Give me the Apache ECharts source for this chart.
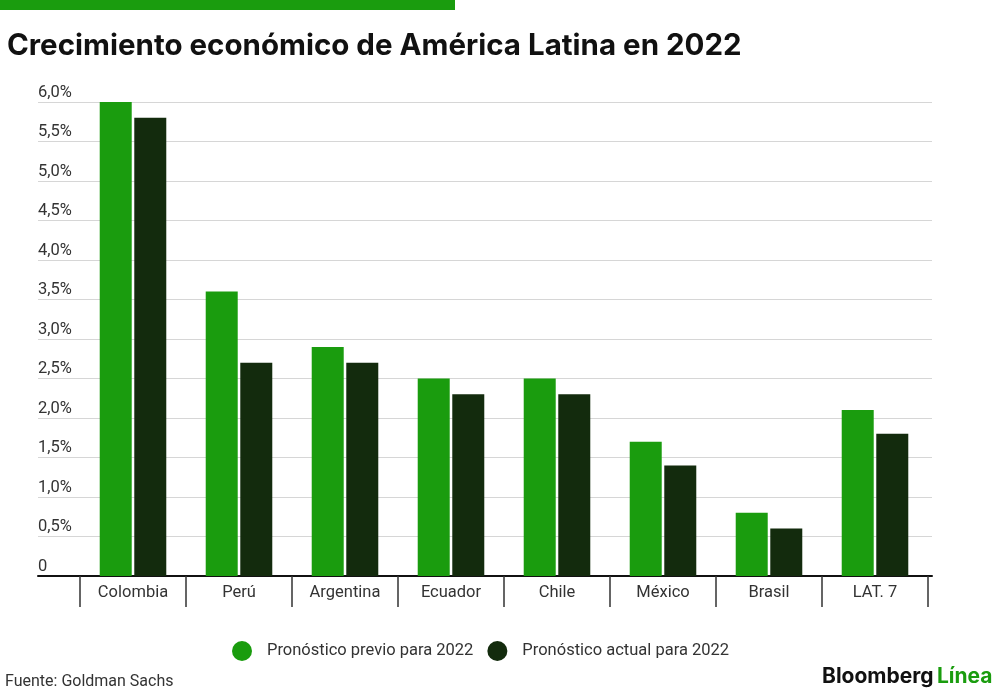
<!DOCTYPE html>
<html>
<head>
<meta charset="utf-8">
<script src="https://cdn.jsdelivr.net/npm/echarts@6/dist/echarts.min.js"></script>
<style>
  html, body { margin: 0; padding: 0; background: #fff; }
  #chart { width: 1000px; height: 696px; }
</style>
</head>
<body>
<div id="chart"></div>
<script>
var paises = ['Colombia', 'Perú', 'Argentina', 'Ecuador', 'Chile', 'México', 'Brasil', 'LAT. 7']
var previo = [6.0, 3.6, 2.9, 2.5, 2.5, 1.7, 0.8, 2.1]
var actual = [5.8, 2.7, 2.7, 2.3, 2.3, 1.4, 0.6, 1.8]
var nombres = ['Pronóstico previo para 2022', 'Pronóstico actual para 2022']

var verde = '#1a9c0e'
var oscuro = '#132b0d'
var fuente = 'Roboto, "Liberation Sans", sans-serif'

var myChart = echarts.init(document.getElementById('chart'))

myChart.setOption({
  backgroundColor: '#fff',
  animation: false,
  textStyle: { fontFamily: fuente },
  graphic: [
    { type: 'rect', left: 0, top: 0, shape: { width: 455, height: 10 }, style: { fill: verde } },
    {
      type: 'text', left: 7, top: 31,
      style: { text: 'Crecimiento económico de América Latina en 2022', font: 'bold 29.5px Inter, Roboto, sans-serif', fill: '#111' }
    },
    {
      type: 'text', left: 5, top: 674,
      style: { text: 'Fuente: Goldman Sachs', font: '16px ' + fuente, fill: '#333' }
    },
    {
      type: 'text', left: 822, top: 666,
      style: {
        text: '{a|Bloomberg} {b|Línea}',
        rich: {
          a: { font: 'bold 21px Inter, Roboto, sans-serif', fill: '#111' },
          b: { font: 'bold 21px Inter, Roboto, sans-serif', fill: verde }
        }
      }
    }
  ],
  legend: {
    data: nombres,
    left: 232,
    top: 641,
    padding: 0,
    icon: 'circle',
    itemWidth: 20,
    itemHeight: 20,
    itemGap: 14,
    textStyle: { fontSize: 16.5, color: '#333', padding: [0, 0, 0, 10] }
  },
  grid: [
    // grid de las barras
    { left: 80, right: 72, top: 102, bottom: 120 },
    // grid solo para las líneas guía y etiquetas del eje y
    { left: 38, right: 68, top: 102, bottom: 120 }
  ],
  xAxis: [
    {
      type: 'category',
      gridIndex: 0,
      data: paises,
      axisLine: { show: false },
      axisTick: { show: true, length: 31, lineStyle: { color: '#333', width: 1.5 } },
      axisLabel: { fontSize: 16.5, color: '#333', margin: 8 }
    },
    {
      type: 'value',
      gridIndex: 1,
      min: 0,
      max: 1,
      axisLine: { show: true, onZero: false, lineStyle: { color: '#111', width: 2 } },
      axisTick: { show: false },
      axisLabel: { show: false },
      splitLine: { show: false }
    }
  ],
  yAxis: [
    {
      type: 'value',
      gridIndex: 0,
      min: 0,
      max: 6,
      interval: 0.5,
      axisLine: { show: false },
      axisTick: { show: false },
      axisLabel: { show: false },
      splitLine: { show: false }
    },
    {
      type: 'value',
      gridIndex: 1,
      min: 0,
      max: 6,
      interval: 0.5,
      axisLine: { show: false },
      axisTick: { show: false },
      splitLine: { show: true, lineStyle: { color: '#d6d6d6', width: 1 } },
      axisLabel: {
        inside: true,
        margin: 0,
        align: 'left',
        verticalAlign: 'bottom',
        padding: [0, 0, 1, 0],
        fontSize: 16.5,
        color: '#333',
        formatter: function (v) {
          if (v === 0) return '0'
          return v.toFixed(1).replace('.', ',') + '%'
        }
      }
    }
  ],
  series: [
    {
      name: nombres[0],
      type: 'bar',
      xAxisIndex: 0,
      yAxisIndex: 0,
      data: previo,
      barWidth: 32,
      barGap: '8%',
      itemStyle: { color: verde }
    },
    {
      name: nombres[1],
      type: 'bar',
      xAxisIndex: 0,
      yAxisIndex: 0,
      data: actual,
      barWidth: 32,
      barGap: '8%',
      itemStyle: { color: oscuro }
    }
  ]
})
</script>
</body>
</html>
